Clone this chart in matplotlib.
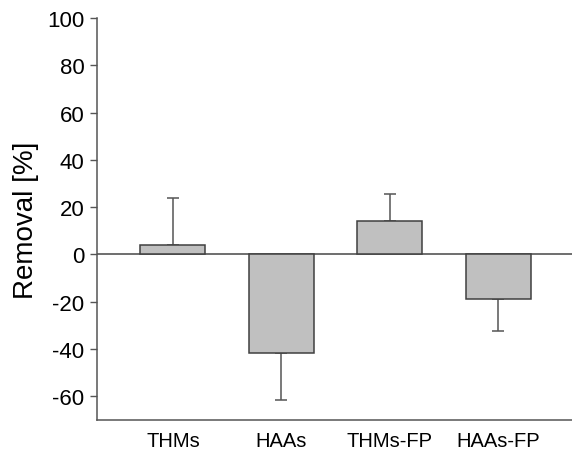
import numpy as np # arrays
import matplotlib
matplotlib.use("Agg")
import matplotlib.pyplot as plt # plotting

plt.rcParams['font.family'] = ['Liberation Sans', 'DejaVu Sans']
plt.rcParams['axes.unicode_minus'] = False # plain hyphen like the original

groups = ["THMs", "HAAs", "THMs-FP", "HAAs-FP"] # categories on the x axis
removal = [4.2, -41.7, 14.0, -19.0] # mean removal in %
err = [19.8, 19.8, 11.5, 13.3] # error bar length (one sided, away from zero)

x = np.arange(len(groups))
lower = [e if r < 0 else 0 for r, e in zip(removal, err)]
upper = [e if r >= 0 else 0 for r, e in zip(removal, err)]

fig = plt.figure(figsize=(5.72, 4.6), dpi=100)
ax = fig.add_axes([0.1696, 0.0848, 0.8304, 0.8739])

ax.axhline(0, color="#555555", lw=1.2, zorder=1) # zero line
ax.errorbar(x, removal, yerr=[lower, upper], fmt="none", ecolor="#555555",
            elinewidth=1.1, capsize=4, capthick=1.1, zorder=2)
ax.bar(x, removal, width=0.6, color="#c0c0c0", edgecolor="#404040", lw=1.1, zorder=3)

ax.set_xlim(-0.7, 3.68)
ax.set_ylim(-70, 100)
ax.set_yticks(np.arange(-60, 101, 20))
ax.set_xticks(x)
ax.set_xticklabels(groups, fontsize=14.5)
ax.tick_params(axis="x", length=0, pad=8)
ax.tick_params(axis="y", labelsize=16, length=5, width=1, color="#555555", pad=4)
ax.set_ylabel("Removal [%]", fontsize=20, labelpad=6)

for s in ["top", "right"]:
    ax.spines[s].set_visible(False)
for s in ["left", "bottom"]:
    ax.spines[s].set_color("#555555")
    ax.spines[s].set_linewidth(1.1)

fig.savefig("out.png", dpi=100)
